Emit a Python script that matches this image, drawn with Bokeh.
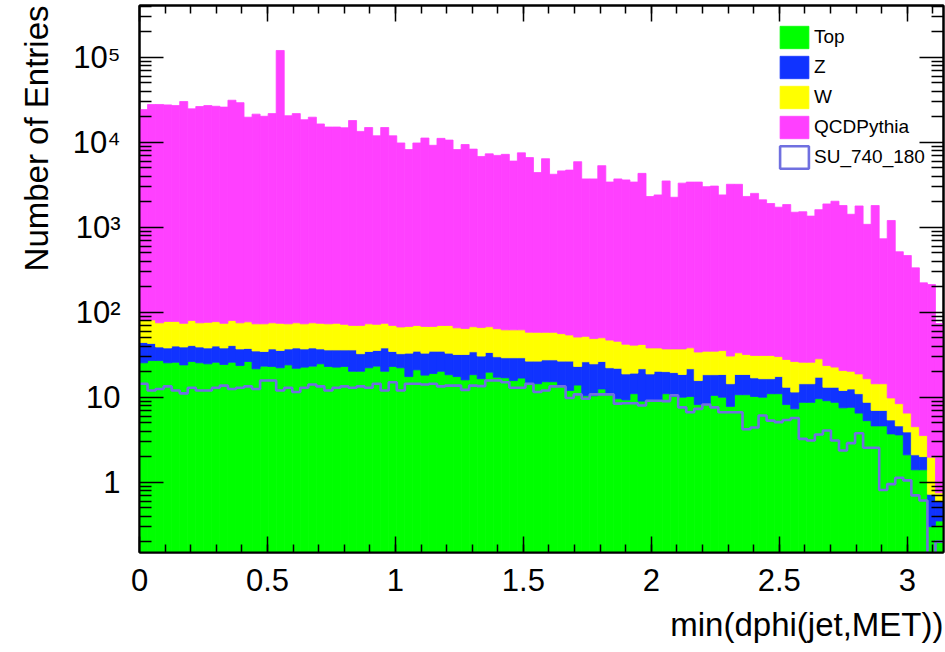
import numpy as np
from bokeh.plotting import figure
from bokeh.models import (FixedTicker, LinearAxis, LogAxis, Legend, LegendItem,
                          Title, Range1d, CustomJSTickFormatter)
from bokeh.embed import file_html
from bokeh.resources import INLINE

# ---------------- data ----------------
n_bins = 100
x_lo, x_hi = 0.0, np.pi          # histogram range of min(dphi(jet,MET))
y_lo, y_hi = 0.149, 4.06e5       # log axis range

top = [25.4, 27.0, 27.0, 25.4, 25.8, 24.0, 26.3, 25.4, 24.7, 25.8,
       24.3, 25.8, 23.6, 26.3, 21.6, 23.2, 23.0, 22.2, 24.0, 21.9,
       22.6, 23.2, 24.7, 23.0, 22.6, 23.0, 20.2, 20.2, 22.2, 23.2,
       20.2, 23.0, 22.2, 17.5, 21.0, 18.2, 19.0, 20.2, 18.4, 17.5,
       16.0, 18.4, 16.5, 19.7, 17.2, 16.9, 15.7, 16.8, 14.4, 14.4,
       15.2, 15.2, 13.4, 12.0, 13.9, 10.4, 10.4, 12.5, 11.0, 9.6,
       9.3, 11.0, 9.0, 9.3, 9.1, 11.0, 10.2, 10.0, 10.2, 8.2,
       8.3, 10.5, 10.0, 7.8, 10.7, 10.7, 10.2, 10.0, 11.0, 11.0,
       8.2, 7.3, 8.7, 8.7, 9.6, 9.1, 8.7, 7.5, 7.6, 6.5,
       5.3, 4.6, 4.6, 3.7, 3.6, 2.1, 1.4, 1.4, 0.3, 0.35]

z = [18.6, 16.0, 12.0, 12.6, 14.2, 15.0, 14.2, 13.6, 13.3, 14.2,
     13.7, 14.7, 13.4, 11.2, 13.4, 11.3, 14.0, 13.3, 13.0, 16.1,
     14.4, 14.8, 12.3, 13.0, 13.4, 13.0, 15.8, 12.3, 12.3, 12.3,
     17.8, 11.5, 10.3, 15.5, 13.8, 14.8, 15.8, 14.6, 14.6, 14.3,
     15.8, 15.8, 14.0, 13.9, 12.7, 12.2, 13.4, 12.3, 12.2, 12.2,
     12.3, 12.3, 13.2, 14.6, 9.1, 15.7, 14.3, 13.8, 11.2, 12.3,
     9.5, 8.2, 12.6, 9.5, 11.1, 9.0, 9.3, 8.5, 11.4, 7.5,
     10.1, 7.9, 8.5, 6.6, 7.8, 7.8, 6.7, 6.5, 5.5, 6.5,
     4.9, 4.2, 5.7, 5.7, 7.6, 4.0, 4.4, 4.5, 4.9, 4.5,
     3.4, 2.4, 2.4, 1.7, 1.0, 1.8, 0.7, 0.6, 0.42, 0.25]

w = [36, 38, 36, 40, 38, 35, 39.5, 36, 38, 37.5,
     36, 39.5, 38, 39.5, 38, 38.5, 38, 38.5, 36, 37,
     36, 37, 37, 37, 38, 36, 34, 37.5, 38.5, 36.5,
     36, 35.5, 34.5, 35, 35, 35, 33.2, 35, 36.8, 33.7,
     32.6, 33.3, 35.5, 33.9, 34.1, 32.9, 32.9, 32.9, 31.6, 31.4,
     30.5, 30.5, 29.4, 27.4, 28, 25.9, 24.3, 23.7, 24.8, 23.6,
     23.2, 21.8, 20.1, 19.2, 17.8, 17, 17.5, 18.5, 16.5, 18.3,
     16.4, 16.4, 16.9, 16.1, 14.8, 13.3, 14.1, 14.5, 14.5, 12.6,
     14.7, 14.8, 11.4, 11.4, 11.1, 10.5, 9.5, 8.6, 7.7, 7.8,
     7.8, 7.4, 7.4, 4.4, 3.8, 2.6, 2.4, 1.54, 1.25, 0.15]

qcd = [24120, 27720, 27725, 27420, 26920, 30030, 24620, 26225, 26925, 26420,
       25825, 31120, 29125, 19625, 21325, 20125, 21625, 119925, 20425, 21625,
       18325, 19625, 16325, 15025, 15025, 14730, 17930, 13330, 14825, 11830,
       14825, 11830, 9735, 8130, 9730, 11130, 9130, 11030, 10530, 8135,
       9335, 8230, 6735, 7230, 6935, 7140, 5940, 7440, 6540, 4340,
       6340, 4140, 4545, 4645, 5850, 3650, 3650, 5250, 3355, 3655,
       3560, 3360, 4260, 2260, 2360, 3465, 2215, 3265, 3360, 3365,
       2965, 3015, 2365, 3170, 3165, 2270, 2470, 2070, 1870, 1690,
       1820, 1475, 1495, 1325, 1580, 1855, 2000, 1780, 1400, 1760,
       1065, 1785, 717, 1190, 506, 458, 328, 218, 210, 72.9]

su_740_180 = [14.4, 12.0, 12.5, 13.4, 12.0, 11.1, 12.9, 12.0, 12.0, 12.9,
              13.7, 12.5, 12.9, 13.4, 12.5, 15.7, 15.7, 12.0, 12.9, 11.5,
              12.9, 14.1, 13.4, 12.0, 12.9, 13.4, 12.9, 13.4, 12.9, 14.4,
              12.0, 15.0, 12.0, 14.4, 14.4, 14.1, 14.4, 13.4, 13.7, 13.7,
              12.2, 13.7, 13.5, 15.7, 15.7, 15.0, 12.9, 12.9, 14.4, 11.5,
              12.0, 13.4, 13.4, 9.8, 10.8, 9.6, 10.8, 10.8, 10.8, 8.4,
              8.5, 8.5, 8.0, 9.1, 9.1, 9.0, 10.5, 7.6, 6.66, 7.3,
              8.2, 7.6, 6.66, 6.66, 6.66, 4.2, 4.4, 6.1, 5.3, 5.1,
              5.4, 5.7, 3.24, 3.1, 3.64, 4.06, 3.1, 2.36, 2.88, 3.77,
              2.54, 2.54, 0.81, 0.95, 1.13, 1.05, 0.70, 0.61, 0.0, 0.2]

series_names = ["Top", "Z", "W", "QCDPythia"]
series_colors = ["#00ff00", "#1033ff", "#ffff00", "#ff40ff"]
signal_name = "SU_740_180"
signal_color = "#7070e0"

x_ticks = [0, 0.5, 1, 1.5, 2, 2.5, 3]
x_tick_labels = ["0", "0.5", "1", "1.5", "2", "2.5", "3"]
x_minor_ticks = [0.1 * i for i in range(1, 32)]
y_ticks = [1, 10, 100, 1000, 10000, 100000]
y_tick_labels = ["1", "10", "10\u00b2", "10\u00b3", "10\u2074", "10\u2075"]
y_minor_ticks = [m * 10.0 ** k for k in range(-1, 6) for m in range(2, 10)]

x_title = "min(dphi(jet,MET))"
y_title = "Number of Entries"

# ---------------- figure ----------------
FONT = "Liberation Sans"
p = figure(width=945, height=652, output_backend="svg", toolbar_location=None,
           y_axis_type="log", x_range=Range1d(x_lo, x_hi), y_range=Range1d(y_lo, y_hi),
           min_border_left=137, min_border_right=2, min_border_top=5,
           min_border_bottom=100)
p.xgrid.visible = False
p.ygrid.visible = False
p.outline_line_color = "black"
p.outline_line_width = 2
p.background_fill_color = "white"
p.border_fill_color = "white"

edges = np.linspace(x_lo, x_hi, n_bins + 1)
left, right = edges[:-1], edges[1:]
floor = 1e-3
levels = [np.full(n_bins, floor), np.asarray(top, dtype=float)]
for arr in (z, w, qcd):
    levels.append(levels[-1] + np.asarray(arr, dtype=float))

renderers = []
for i, (name, col) in enumerate(zip(series_names, series_colors)):
    r = p.quad(left=left, right=right, bottom=levels[i], top=levels[i + 1],
               fill_color=col, line_color=col, line_width=0.8)
    renderers.append(r)

sig = np.asarray(su_740_180, dtype=float)
sig_plot = np.where(sig > 0, sig, floor)
p.step(x=np.append(left, x_hi), y=np.append(sig_plot, sig_plot[-1]), mode="after",
       line_color=signal_color, line_width=2.6)
# legend-only box renderer for the signal (not displayed in the frame)
sig_box = p.quad(left=left, right=right, bottom=floor, top=sig_plot,
                 fill_color="white", line_color=signal_color, line_width=2.6,
                 visible=False)

# ---------------- axes ----------------
xt = FixedTicker(ticks=x_ticks, minor_ticks=x_minor_ticks)
yt = FixedTicker(ticks=y_ticks, minor_ticks=y_minor_ticks)
blank = CustomJSTickFormatter(code="return ''")

def style(ax, major_len, minor_len):
    ax.axis_line_color = "black"
    ax.axis_line_width = 2
    ax.major_tick_in = major_len
    ax.major_tick_out = 0
    ax.minor_tick_in = minor_len
    ax.minor_tick_out = 0
    ax.major_tick_line_width = 1.5
    ax.minor_tick_line_width = 1.5
    ax.major_tick_line_color = "black"
    ax.minor_tick_line_color = "black"

def hide_labels(ax):
    ax.formatter = blank
    ax.major_label_text_font_size = "1px"
    ax.major_label_standoff = 0

xa = p.xaxis[0]
xa.ticker = xt
xa.major_label_overrides = dict(zip(x_ticks, x_tick_labels))
style(xa, 16, 8)
xa.major_label_text_font = FONT
xa.major_label_text_font_size = "31px"
xa.major_label_text_color = "black"
xa.major_label_standoff = 16

ya = p.yaxis[0]
ya.ticker = yt
ya.major_label_overrides = dict(zip(y_ticks, y_tick_labels))
style(ya, 24, 12)
ya.major_label_text_font = FONT
ya.major_label_text_font_size = "31px"
ya.major_label_text_color = "black"
ya.major_label_standoff = 19

xa2 = LinearAxis(ticker=xt)
style(xa2, 16, 8)
hide_labels(xa2)
p.add_layout(xa2, "above")
ya2 = LogAxis(ticker=yt)
style(ya2, 24, 12)
hide_labels(ya2)
p.add_layout(ya2, "right")

# ---------------- titles (ROOT style: aligned to the end of each axis) ----------------
p.add_layout(Title(text=x_title, align="right", text_font=FONT, text_font_size="33px",
                   text_font_style="normal", text_color="black", standoff=20), "below")
p.add_layout(Title(text=y_title, align="right", text_font=FONT, text_font_size="33px",
                   text_font_style="normal", text_color="black", standoff=30), "left")

# ---------------- legend ----------------
items = [LegendItem(label=n, renderers=[r]) for n, r in zip(series_names, renderers)]
items.append(LegendItem(label=signal_name, renderers=[sig_box]))
legend = Legend(items=items, location=(637, 381), orientation="vertical",
                glyph_width=36, glyph_height=28, label_height=28, label_standoff=2,
                spacing=2, padding=0, margin=0, border_line_color=None,
                background_fill_alpha=0, inactive_fill_alpha=0, label_text_font=FONT,
                label_text_font_size="19px", label_text_color="black")
p.add_layout(legend)

open("out.html", "w").write(file_html(p, INLINE))
